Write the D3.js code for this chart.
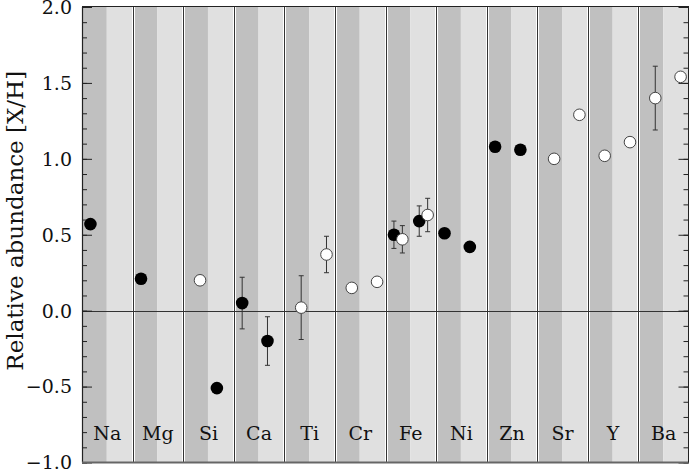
<!DOCTYPE html>
<html>
<head>
<meta charset="utf-8">
<script src="https://cdn.jsdelivr.net/npm/d3@7"></script>
<style>
  html, body { margin: 0; padding: 0; background: #fff; }
  svg { display: block; }
  text { font-family: "DejaVu Serif", serif; fill: #111; }
</style>
</head>
<body>
<svg id="chart" width="689" height="470"></svg>
<script>
// ---- Data ----
const elements = ["Na", "Mg", "Si", "Ca", "Ti", "Cr", "Fe", "Ni", "Zn", "Sr", "Y", "Ba"];
const yTicks = [-1.0, -0.5, 0.0, 0.5, 1.0, 1.5, 2.0];

// Dark band (first half of each element), filled symbols (neutral species)
const darkFilled = [
  { el: "Na", v: 0.57 }, { el: "Mg", v: 0.21 }, { el: "Ca", v: 0.05, e: 0.17 },
  { el: "Fe", v: 0.50, e: 0.09 }, { el: "Ni", v: 0.51 }, { el: "Zn", v: 1.08 }
];
// Dark band, open symbols (ionized species)
const darkOpen = [
  { el: "Si", v: 0.20 }, { el: "Ti", v: 0.02, e: 0.21 }, { el: "Cr", v: 0.15 },
  { el: "Fe", v: 0.47, e: 0.09 }, { el: "Sr", v: 1.00 }, { el: "Y", v: 1.02 },
  { el: "Ba", v: 1.40, e: 0.21 }
];
// Light band (second half), filled symbols
const lightFilled = [
  { el: "Si", v: -0.51 }, { el: "Ca", v: -0.20, e: 0.16 }, { el: "Fe", v: 0.59, e: 0.10 },
  { el: "Ni", v: 0.42 }, { el: "Zn", v: 1.06 }
];
// Light band, open symbols
const lightOpen = [
  { el: "Ti", v: 0.37, e: 0.12 }, { el: "Cr", v: 0.19 }, { el: "Fe", v: 0.63, e: 0.11 },
  { el: "Sr", v: 1.29 }, { el: "Y", v: 1.11 }, { el: "Ba", v: 1.54 }
];

const series = [
  { data: darkFilled, offset: 1 / 6, filled: true },
  { data: darkOpen, offset: 2 / 6, filled: false },
  { data: lightFilled, offset: 4 / 6, filled: true },
  { data: lightOpen, offset: 5 / 6, filled: false }
];

// ---- Layout ----
const svg = d3.select("#chart");
const pLeft = 82, pRight = 689, pTop = 7, pBottom = 462.5;

const x = d3.scaleLinear().domain([0, elements.length]).range([pLeft, pRight]);
const y = d3.scaleLinear().domain([-1, 2]).range([pBottom, pTop]);
const idx = el => elements.indexOf(el);

// Bands
const g = svg.append("g");
elements.forEach((el, i) => {
  const x0 = x(i), xm = x(i + 0.5) - 0.5, x1 = x(i + 1);
  g.append("rect").attr("x", x0).attr("y", pTop).attr("width", xm - x0).attr("height", pBottom - pTop).attr("fill", "#c0c0c0");
  g.append("rect").attr("x", xm).attr("y", pTop).attr("width", x1 - xm).attr("height", pBottom - pTop).attr("fill", "#e0e0e0");
});
// Separators: white - dark - white
elements.forEach((el, i) => {
  if (i === 0) return;
  const xs = Math.round(x(i)) + 0.5;
  g.append("rect").attr("x", xs - 1.5).attr("y", pTop).attr("width", 3).attr("height", pBottom - pTop).attr("fill", "#fff");
  g.append("line").attr("x1", xs).attr("x2", xs).attr("y1", pTop).attr("y2", pBottom).attr("stroke", "#333").attr("stroke-width", 1);
});

// Zero line
svg.append("line").attr("x1", pLeft).attr("x2", pRight).attr("y1", Math.round(y(0)) + 0.5).attr("y2", Math.round(y(0)) + 0.5)
  .attr("stroke", "#333").attr("stroke-width", 1);

// Element labels
svg.append("g").selectAll("text").data(elements).join("text")
  .attr("x", (d, i) => x(i + 0.5))
  .attr("y", 440)
  .attr("text-anchor", "middle")
  .attr("font-size", 19)
  .text(d => d);

// Axes (ticks inside)
const minor = d3.range(-1, 2.0001, 0.1).map(v => Math.round(v * 10) / 10);
const leftAxis = d3.axisRight(y).tickValues(minor).tickSize(5).tickFormat("");
const rightAxis = d3.axisLeft(y).tickValues(minor).tickSize(5).tickFormat("");
const la = svg.append("g").attr("transform", `translate(${pLeft},0)`).call(leftAxis);
const ra = svg.append("g").attr("transform", `translate(${pRight - 0.5},0)`).call(rightAxis);
[la, ra].forEach(a => {
  a.select(".domain").remove();
  a.selectAll(".tick line").attr("stroke", "#222");
});
const lmaj = d3.axisRight(y).tickValues(yTicks).tickSize(10).tickFormat("");
const rmaj = d3.axisLeft(y).tickValues(yTicks).tickSize(10).tickFormat("");
[svg.append("g").attr("transform", `translate(${pLeft},0)`).call(lmaj),
 svg.append("g").attr("transform", `translate(${pRight - 0.5},0)`).call(rmaj)].forEach(a => {
  a.select(".domain").remove();
  a.selectAll(".tick line").attr("stroke", "#222");
});

// Tick labels
svg.append("g").selectAll("text").data(yTicks).join("text")
  .attr("x", 72)
  .attr("y", d => y(d))
  .attr("dy", "0.36em")
  .attr("text-anchor", "end")
  .attr("font-size", 19)
  .text(d => (d < 0 ? "\u2212" : "") + Math.abs(d).toFixed(1));

// Frame
svg.append("line").attr("x1", pLeft + 0.5).attr("x2", pLeft + 0.5).attr("y1", pTop).attr("y2", pBottom).attr("stroke", "#222").attr("stroke-width", 1.2);
svg.append("line").attr("x1", pLeft).attr("x2", pRight).attr("y1", pTop - 0.5).attr("y2", pTop - 0.5).attr("stroke", "#222").attr("stroke-width", 1.2);
svg.append("line").attr("x1", pLeft).attr("x2", pRight).attr("y1", pBottom).attr("y2", pBottom).attr("stroke", "#666").attr("stroke-width", 2);
svg.append("line").attr("x1", pRight - 0.5).attr("x2", pRight - 0.5).attr("y1", pTop).attr("y2", pBottom).attr("stroke", "#222").attr("stroke-width", 1);

// Y label
svg.append("text")
  .attr("transform", `translate(23,${(pTop + pBottom) / 2 - 14}) rotate(-90)`)
  .attr("text-anchor", "middle")
  .attr("font-size", 23)
  .text("Relative abundance [X/H]");

// Points and error bars
series.forEach(s => {
  const gs = svg.append("g");
  const withErr = s.data.filter(d => d.e);
  const eb = gs.selectAll("g.err").data(withErr).join("g").attr("class", "err");
  eb.append("line")
    .attr("x1", d => x(idx(d.el) + s.offset)).attr("x2", d => x(idx(d.el) + s.offset))
    .attr("y1", d => y(d.v + d.e)).attr("y2", d => y(d.v - d.e))
    .attr("stroke", "#333").attr("stroke-width", 1);
  [1, -1].forEach(sg => {
    eb.append("line")
      .attr("x1", d => x(idx(d.el) + s.offset) - 2.5).attr("x2", d => x(idx(d.el) + s.offset) + 2.5)
      .attr("y1", d => y(d.v + sg * d.e)).attr("y2", d => y(d.v + sg * d.e))
      .attr("stroke", "#333").attr("stroke-width", 1);
  });
  gs.selectAll("circle").data(s.data).join("circle")
    .attr("cx", d => x(idx(d.el) + s.offset))
    .attr("cy", d => y(d.v))
    .attr("r", s.filled ? 6.3 : 5.8)
    .attr("fill", s.filled ? "#000" : "#fff")
    .attr("stroke", s.filled ? "none" : "#444")
    .attr("stroke-width", 1);
});
</script>
</body>
</html>
